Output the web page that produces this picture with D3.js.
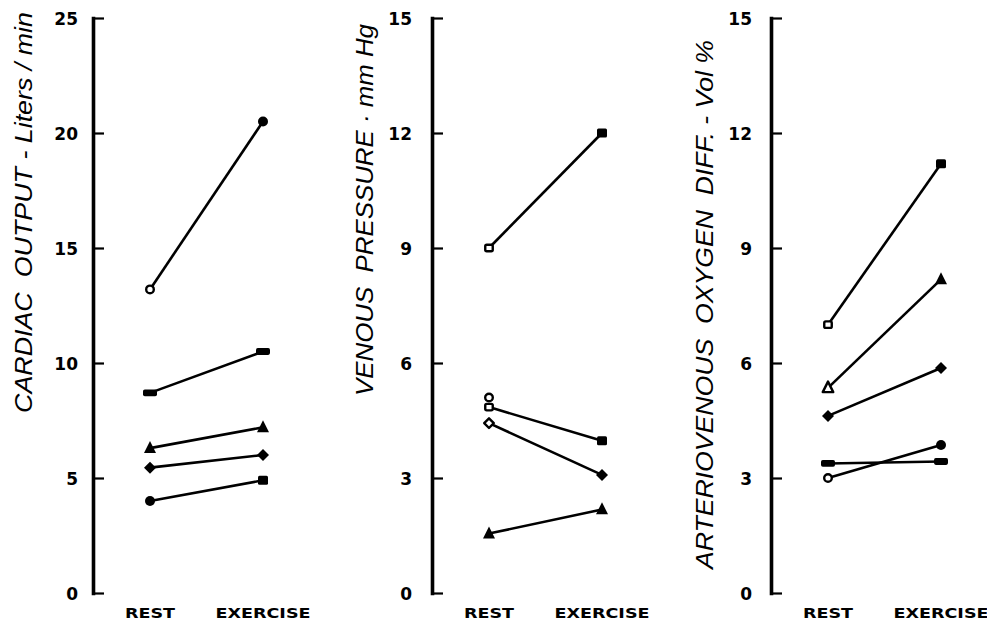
<!DOCTYPE html>
<html>
<head>
<meta charset="utf-8">
<script src="https://cdn.jsdelivr.net/npm/d3@7"></script>
<style>
  html, body { margin: 0; padding: 0; background: #fff; }
  svg { display: block; }
</style>
</head>
<body>
<svg id="chart" width="987" height="621"></svg>
<script>
// ---------------- DATA ----------------
const phases = ["REST", "EXERCISE"];

// Panel 1 – Cardiac output (Liters/min)
const cardiacTitle = "CARDIAC  OUTPUT - Liters / min";
const cardiacTicks = [0, 5, 10, 15, 20, 25];
const cardiacRest = [13.2, 8.7, 6.3, 5.45, 4.0];
const cardiacExercise = [20.5, 10.5, 7.2, 6.0, 4.9];
const cardiacMarkers = [["circle-open", "circle"], ["bar", "bar"], ["triangle", "triangle"], ["diamond", "diamond"], ["circle", "square"]];

// Panel 2 – Venous pressure (mm Hg)
const venousTitle = "VENOUS  PRESSURE · mm Hg";
const venousTicks = [0, 3, 6, 9, 12, 15];
const venousRest = [9.0, 5.1, 4.85, 4.43, 1.55];
const venousExercise = [12.0, null, 3.97, 3.08, 2.18];
const venousMarkers = [["square-open", "square"], ["circle-open", null], ["square-open", "square"], ["diamond-open", "diamond"], ["triangle", "triangle"]];

// Panel 3 – Arteriovenous oxygen difference (Vol %)
const avTitle = "ARTERIOVENOUS  OXYGEN  DIFF. - Vol %";
const avTicks = [0, 3, 6, 9, 12, 15];
const avRest = [7.0, 5.35, 4.62, 3.0, 3.38];
const avExercise = [11.2, 8.18, 5.87, 3.86, 3.43];
const avMarkers = [["square-open", "square"], ["triangle-open", "triangle"], ["diamond", "diamond"], ["circle-open", "circle"], ["bar", "bar"]];

// ---------------- LAYOUT ----------------
const svg = d3.select("#chart");
const yTop = 18, yBottom = 593;

const panels = [
  { title: cardiacTitle, ticks: cardiacTicks, rest: cardiacRest, exercise: cardiacExercise, markers: cardiacMarkers,
    axisX: 93, titleX: 32, titleTop: 12, titleBottom: 413, labelPad: 15 },
  { title: venousTitle, ticks: venousTicks, rest: venousRest, exercise: venousExercise, markers: venousMarkers,
    axisX: 432, titleX: 373, titleTop: 24, titleBottom: 396, labelPad: 20 },
  { title: avTitle, ticks: avTicks, rest: avRest, exercise: avExercise, markers: avMarkers,
    axisX: 771, titleX: 713, titleTop: 40, titleBottom: 569, labelPad: 19 }
];

function drawMarker(g, type, cx, cy) {
  if (!type) return;
  const open = type.endsWith("-open");
  const base = type.replace("-open", "");
  const fill = open ? "#fff" : "#000";
  const sw = open ? 2.4 : 0;
  let el;
  if (base === "circle") {
    el = g.append("circle").attr("cx", cx).attr("cy", cy).attr("r", open ? 3.8 : 5);
  } else if (base === "square") {
    const s = open ? 7.5 : 10;
    el = g.append("rect").attr("x", cx - s / 2).attr("y", cy - (s - 1) / 2)
      .attr("width", s).attr("height", s - 1).attr("rx", 1.5);
  } else if (base === "bar") {
    el = g.append("rect").attr("x", cx - 7).attr("y", cy - 3.4).attr("width", 14).attr("height", 6.8).attr("rx", 1.8);
  } else if (base === "triangle") {
    const s = open ? 10.5 : 12;
    el = g.append("path").attr("d", `M${cx},${cy - s * 0.6} L${cx + s / 2},${cy + s * 0.4} L${cx - s / 2},${cy + s * 0.4} Z`);
  } else if (base === "diamond") {
    const s = open ? 4.8 : 6;
    el = g.append("path").attr("d", `M${cx},${cy - s} L${cx + s},${cy} L${cx},${cy + s} L${cx - s},${cy} Z`);
  }
  el.attr("fill", fill).attr("stroke", "#000").attr("stroke-width", sw).attr("stroke-linejoin", "round");
}

panels.forEach(p => {
  const g = svg.append("g");
  const y = d3.scaleLinear().domain([0, d3.max(p.ticks)]).range([yBottom, yTop]);
  const x = d3.scalePoint().domain(phases).range([p.axisX + 57, p.axisX + 170]);

  // axis
  const axis = d3.axisLeft(y).tickValues(p.ticks).tickSizeInner(-11).tickSizeOuter(0)
    .tickPadding(p.labelPad).tickFormat(d3.format("d"));
  const ag = g.append("g").attr("transform", `translate(${p.axisX},0)`).call(axis);
  ag.select(".domain").attr("stroke", "#000").attr("stroke-width", 3.6).attr("stroke-linecap", "square");
  ag.selectAll(".tick line").attr("stroke", "#000").attr("stroke-width", 2.2);
  ag.selectAll(".tick text")
    .attr("fill", "#000")
    .attr("dy", "0.4em")
    .style("font-family", "'DejaVu Sans', sans-serif")
    .style("font-weight", "bold")
    .style("font-size", "17px");

  // title (rotated)
  const tLen = p.titleBottom - p.titleTop;
  const tMid = (p.titleBottom + p.titleTop) / 2;
  g.append("text")
    .attr("transform", `translate(${p.titleX},${tMid}) rotate(-90)`)
    .attr("text-anchor", "middle")
    .attr("textLength", tLen)
    .attr("lengthAdjust", "spacingAndGlyphs")
    .style("white-space", "pre")
    .style("font-family", "'Liberation Sans', Arial, sans-serif")
    .style("font-style", "italic")
    .style("font-size", "23px")
    .attr("fill", "#000")
    .text(p.title);

  // category labels
  phases.forEach(ph => {
    g.append("text")
      .attr("x", x(ph))
      .attr("y", 618)
      .attr("text-anchor", "middle")
      .attr("textLength", ph === "REST" ? 50 : 95)
      .attr("lengthAdjust", "spacingAndGlyphs")
      .style("font-family", "'DejaVu Sans', sans-serif")
      .style("font-weight", "bold")
      .style("font-size", "14.5px")
      .attr("fill", "#000")
      .text(ph);
  });

  // lines
  p.rest.forEach((r, i) => {
    const e = p.exercise[i];
    if (r != null && e != null) {
      g.append("line")
        .attr("x1", x("REST")).attr("y1", y(r))
        .attr("x2", x("EXERCISE")).attr("y2", y(e))
        .attr("stroke", "#000").attr("stroke-width", 2.6);
    }
  });
  // markers
  p.rest.forEach((r, i) => {
    const e = p.exercise[i];
    if (r != null) drawMarker(g, p.markers[i][0], x("REST"), y(r));
    if (e != null) drawMarker(g, p.markers[i][1], x("EXERCISE"), y(e));
  });
});
</script>
</body>
</html>
